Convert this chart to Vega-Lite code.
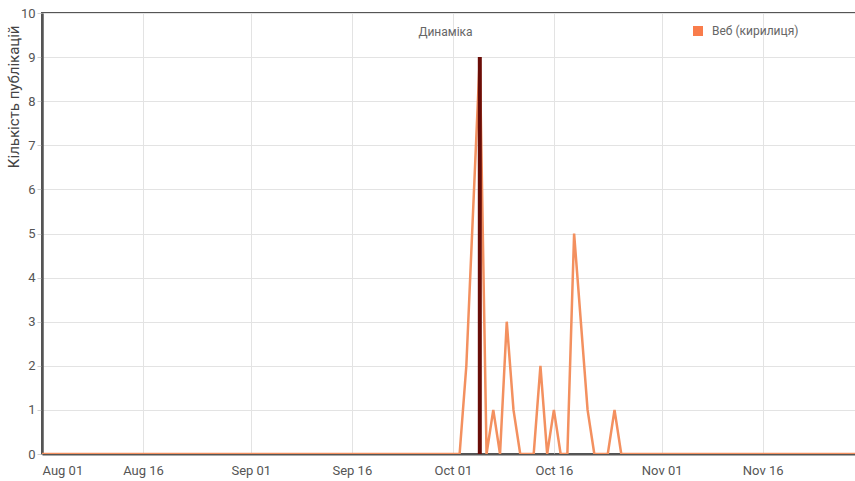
{
  "$schema": "https://vega.github.io/schema/vega-lite/v6.json",
  "width": 815,
  "height": 441,
  "autosize": "none",
  "padding": {"left": 42, "top": 13, "right": 0, "bottom": 27},
  "background": "white",
  "title": {"text": "Динаміка", "anchor": "middle", "offset": -32, "dx": -4, "fontSize": 12, "fontWeight": "normal", "color": "#666", "font": "Roboto"},
  "config": {
    "font": "Roboto",
    "view": {"stroke": "#555", "strokeWidth": 2}
  },
  "datasets": {
    "web": [
      {"d": "2023/08/01", "v": 0}, {"d": "2023/08/02", "v": 0}, {"d": "2023/08/03", "v": 0}, {"d": "2023/08/04", "v": 0}, {"d": "2023/08/05", "v": 0}, {"d": "2023/08/06", "v": 0}, {"d": "2023/08/07", "v": 0}, {"d": "2023/08/08", "v": 0}, {"d": "2023/08/09", "v": 0}, {"d": "2023/08/10", "v": 0},
      {"d": "2023/08/11", "v": 0}, {"d": "2023/08/12", "v": 0}, {"d": "2023/08/13", "v": 0}, {"d": "2023/08/14", "v": 0}, {"d": "2023/08/15", "v": 0}, {"d": "2023/08/16", "v": 0}, {"d": "2023/08/17", "v": 0}, {"d": "2023/08/18", "v": 0}, {"d": "2023/08/19", "v": 0}, {"d": "2023/08/20", "v": 0},
      {"d": "2023/08/21", "v": 0}, {"d": "2023/08/22", "v": 0}, {"d": "2023/08/23", "v": 0}, {"d": "2023/08/24", "v": 0}, {"d": "2023/08/25", "v": 0}, {"d": "2023/08/26", "v": 0}, {"d": "2023/08/27", "v": 0}, {"d": "2023/08/28", "v": 0}, {"d": "2023/08/29", "v": 0}, {"d": "2023/08/30", "v": 0}, {"d": "2023/08/31", "v": 0},
      {"d": "2023/09/01", "v": 0}, {"d": "2023/09/02", "v": 0}, {"d": "2023/09/03", "v": 0}, {"d": "2023/09/04", "v": 0}, {"d": "2023/09/05", "v": 0}, {"d": "2023/09/06", "v": 0}, {"d": "2023/09/07", "v": 0}, {"d": "2023/09/08", "v": 0}, {"d": "2023/09/09", "v": 0}, {"d": "2023/09/10", "v": 0},
      {"d": "2023/09/11", "v": 0}, {"d": "2023/09/12", "v": 0}, {"d": "2023/09/13", "v": 0}, {"d": "2023/09/14", "v": 0}, {"d": "2023/09/15", "v": 0}, {"d": "2023/09/16", "v": 0}, {"d": "2023/09/17", "v": 0}, {"d": "2023/09/18", "v": 0}, {"d": "2023/09/19", "v": 0}, {"d": "2023/09/20", "v": 0},
      {"d": "2023/09/21", "v": 0}, {"d": "2023/09/22", "v": 0}, {"d": "2023/09/23", "v": 0}, {"d": "2023/09/24", "v": 0}, {"d": "2023/09/25", "v": 0}, {"d": "2023/09/26", "v": 0}, {"d": "2023/09/27", "v": 0}, {"d": "2023/09/28", "v": 0}, {"d": "2023/09/29", "v": 0}, {"d": "2023/09/30", "v": 0},
      {"d": "2023/10/01", "v": 0}, {"d": "2023/10/02", "v": 0}, {"d": "2023/10/03", "v": 2}, {"d": "2023/10/05", "v": 9}, {"d": "2023/10/06", "v": 0}, {"d": "2023/10/07", "v": 1}, {"d": "2023/10/08", "v": 0}, {"d": "2023/10/09", "v": 3}, {"d": "2023/10/10", "v": 1},
      {"d": "2023/10/11", "v": 0}, {"d": "2023/10/12", "v": 0}, {"d": "2023/10/13", "v": 0}, {"d": "2023/10/14", "v": 2}, {"d": "2023/10/15", "v": 0}, {"d": "2023/10/16", "v": 1}, {"d": "2023/10/17", "v": 0}, {"d": "2023/10/18", "v": 0}, {"d": "2023/10/19", "v": 5}, {"d": "2023/10/20", "v": 3},
      {"d": "2023/10/21", "v": 1}, {"d": "2023/10/22", "v": 0}, {"d": "2023/10/23", "v": 0}, {"d": "2023/10/24", "v": 0}, {"d": "2023/10/25", "v": 1}, {"d": "2023/10/26", "v": 0}, {"d": "2023/10/27", "v": 0}, {"d": "2023/10/28", "v": 0}, {"d": "2023/10/29", "v": 0}, {"d": "2023/10/30", "v": 0}, {"d": "2023/10/31", "v": 0},
      {"d": "2023/11/01", "v": 0}, {"d": "2023/11/02", "v": 0}, {"d": "2023/11/03", "v": 0}, {"d": "2023/11/04", "v": 0}, {"d": "2023/11/05", "v": 0}, {"d": "2023/11/06", "v": 0}, {"d": "2023/11/07", "v": 0}, {"d": "2023/11/08", "v": 0}, {"d": "2023/11/09", "v": 0}, {"d": "2023/11/10", "v": 0},
      {"d": "2023/11/11", "v": 0}, {"d": "2023/11/12", "v": 0}, {"d": "2023/11/13", "v": 0}, {"d": "2023/11/14", "v": 0}, {"d": "2023/11/15", "v": 0}, {"d": "2023/11/16", "v": 0}, {"d": "2023/11/17", "v": 0}, {"d": "2023/11/18", "v": 0}, {"d": "2023/11/19", "v": 0}, {"d": "2023/11/20", "v": 0},
      {"d": "2023/11/21", "v": 0}, {"d": "2023/11/22", "v": 0}, {"d": "2023/11/23", "v": 0}, {"d": "2023/11/24", "v": 0}, {"d": "2023/11/25", "v": 0}, {"d": "2023/11/26", "v": 0}, {"d": "2023/11/27", "v": 0}, {"d": "2023/11/28", "v": 0}, {"d": "2023/11/29", "v": 0}, {"d": "2023/11/30", "v": 0}
    ],
    "peak": [
      {"d": "2023/10/05", "v": 9}
    ]
  },
  "encoding": {
    "x": {
      "field": "d",
      "type": "temporal",
      "scale": {"domain": [{"year": 2023, "month": 8, "date": 1}, {"year": 2023, "month": 11, "date": 30}]},
      "axis": {
        "title": null,
        "format": "%b %d",
        "values": [
          {"year": 2023, "month": 8, "date": 1}, {"year": 2023, "month": 8, "date": 16},
          {"year": 2023, "month": 9, "date": 1}, {"year": 2023, "month": 9, "date": 16},
          {"year": 2023, "month": 10, "date": 1}, {"year": 2023, "month": 10, "date": 16},
          {"year": 2023, "month": 11, "date": 1}, {"year": 2023, "month": 11, "date": 16}
        ],
        "labelFont": "Roboto",
        "labelFontSize": 13,
        "labelColor": "#555",
        "labelPadding": 10,
        "ticks": false,
        "domainColor": "#555",
        "domainWidth": 2,
        "gridColor": "#e3e3e3",
        "gridWidth": 1,
        "labelOverlap": false
      }
    },
    "y": {
      "field": "v",
      "type": "quantitative",
      "scale": {"domain": [0, 10]},
      "axis": {
        "title": "Кількість публікацій",
        "titleFont": "Roboto",
        "titleFontSize": 15,
        "titleFontWeight": "normal",
        "titleColor": "#444",
        "titleAnchor": "end",
        "titleX": -21,
        "titleY": 12,
        "values": [0, 1, 2, 3, 4, 5, 6, 7, 8, 9, 10],
        "labelFont": "Roboto",
        "labelFontSize": 13,
        "labelColor": "#555",
        "labelPadding": 2,
        "tickColor": "#d0d0d0",
        "tickSize": 5,
        "domainColor": "#555",
        "domainWidth": 2.5,
        "gridColor": "#e3e3e3",
        "gridWidth": 1
      }
    }
  },
  "layer": [
    {
      "data": {"name": "web"},
      "mark": {"type": "line", "strokeWidth": 2.5, "clip": true},
      "encoding": {
        "color": {
          "datum": "Веб (кирилиця)",
          "scale": {"range": ["#f3905f"]},
          "legend": {
            "title": null,
            "orient": "none",
            "legendX": 650,
            "legendY": 12,
            "symbolType": "square",
            "symbolSize": 100,
            "symbolStrokeWidth": 0,
            "labelFont": "Roboto",
            "labelFontSize": 12,
            "labelColor": "#666",
            "labelOffset": 8,
            "encode": {"symbols": {"update": {"fill": {"value": "#f97c4b"}, "stroke": {"value": "#f97c4b"}}}}
          }
        }
      }
    },
    {
      "data": {"name": "peak"},
      "mark": {"type": "rule", "strokeWidth": 4, "color": "#6a0d08"},
      "encoding": {
        "y2": {"datum": 0}
      }
    }
  ]
}
